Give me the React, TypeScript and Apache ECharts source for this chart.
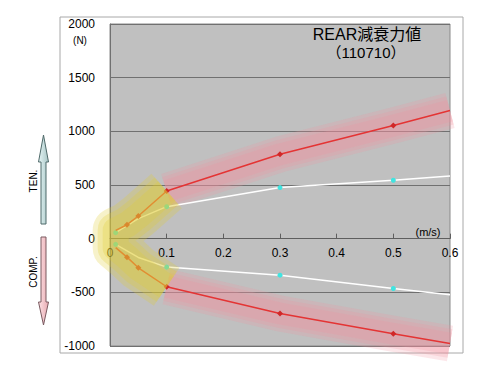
import React, { useEffect, useRef } from "react";
import * as echarts from "echarts";

// ---- data ----
const RED_X = [0.01, 0.03, 0.05, 0.1, 0.3, 0.5, 0.6];
const RED_TEN = [77, 130, 211, 444, 786, 1054, 1194];
const RED_COMP = [-84, -172, -271, -448, -697, -886, -977];
const WHITE_X = [0.01, 0.05, 0.1, 0.3, 0.5, 0.6];
const WHITE_TEN = [56, 187, 298, 476, 544, 584];
const WHITE_COMP = [-53, -175, -265, -340, -464, -523];
const RED_MARK_X = [0.03, 0.05, 0.1, 0.3, 0.5];
const CYAN_MARK_X = [0.01, 0.1, 0.3, 0.5];
const X_MIN = 0;
const X_MAX = 0.6;
const X_STEP = 0.1;
const Y_MIN = -1000;
const Y_MAX = 2000;
const Y_STEP = 500;
const TITLE = "REAR減衰力値";
const SUBTITLE = "（110710）";

const FONT = '"Liberation Sans", Arial, "Noto Sans CJK JP", sans-serif';

const GRID_LEFT = 110;
const GRID_TOP = 24;
const GRID_W = 340;
const GRID_H = 322;
const ZERO_H = (GRID_H * Y_MAX) / (Y_MAX - Y_MIN);

const pairs = (xs: number[], ys: number[]) => xs.map((x, i) => [x, ys[i]]);
const marked = (xs: number[], ys: number[], marks: number[], sym: string) =>
  xs.map((x, i) => ({ value: [x, ys[i]], symbol: marks.includes(x) ? sym : "none" }));

const yellowPath = [
  ...pairs(RED_X, RED_TEN).filter((p) => p[0] <= 0.1).reverse(),
  ...pairs(RED_X, RED_COMP).filter((p) => p[0] <= 0.1),
];
const pinkTen = pairs(RED_X, RED_TEN).filter((p) => p[0] >= 0.1);
const pinkComp = pairs(RED_X, RED_COMP).filter((p) => p[0] >= 0.1);

// soft glow = several stacked translucent strokes of decreasing width
const glow = (data: number[][], rgb: string, widths: number[], alpha: number, z: number) =>
  widths.map((w) => ({
    type: "line",
    xAxisIndex: 0,
    yAxisIndex: 0,
    data,
    symbol: "none",
    silent: true,
    z,
    lineStyle: { color: `rgba(${rgb},${alpha})`, width: w, cap: "butt", join: "round" },
  }));

const lineSeries = (data: any[], color: string, markColor: string, size: number, z: number) => ({
  type: "line",
  xAxisIndex: 0,
  yAxisIndex: 0,
  data,
  z,
  showAllSymbol: true,
  symbolSize: size,
  lineStyle: { color, width: 1.5 },
  itemStyle: { color: markColor, borderWidth: 0 },
});

const txt = (x: number, y: number, text: string, fontSize: number, extra: any = {}) => ({
  type: "text",
  x,
  y,
  z: 10,
  ...extra,
  style: {
    text,
    fontSize,
    fontFamily: FONT,
    fill: "#000",
    textAlign: "center",
    textVerticalAlign: "middle",
  },
});

const option: any = {
  animation: false,
  textStyle: { fontFamily: FONT },
  grid: [
    {
      left: GRID_LEFT,
      top: GRID_TOP,
      width: GRID_W,
      height: GRID_H,
      show: true,
      backgroundColor: "#c0c0c0",
      borderColor: "#8a8a8a",
      borderWidth: 1,
    },
    // upper half only: its bottom edge is the zero line, where the x labels sit
    { left: GRID_LEFT, top: GRID_TOP, width: GRID_W, height: ZERO_H, show: false },
  ],
  xAxis: [
    { gridIndex: 0, type: "value", min: X_MIN, max: X_MAX, interval: X_STEP, show: false },
    {
      gridIndex: 1,
      type: "value",
      min: X_MIN,
      max: X_MAX,
      interval: X_STEP,
      position: "bottom",
      axisLine: { show: true, onZero: false, lineStyle: { color: "#5e5e5e", width: 1 } },
      axisTick: { show: true, inside: true, length: 5, lineStyle: { color: "#5e5e5e" } },
      axisLabel: {
        fontSize: 12,
        margin: 8,
        color: (v: number) => (v === 0 ? "#8a7c00" : "#000"),
        formatter: (v: number) => (v === 0 ? "0" : v.toFixed(1)),
      },
      splitLine: { show: false },
    },
  ],
  yAxis: [
    {
      gridIndex: 0,
      type: "value",
      min: Y_MIN,
      max: Y_MAX,
      interval: Y_STEP,
      axisLine: { show: true, onZero: false, lineStyle: { color: "#707070" } },
      axisTick: { show: false },
      axisLabel: { fontSize: 12, color: "#000", margin: 15, formatter: (v: number) => String(v) },
      splitLine: { show: true, lineStyle: { color: "#707070", width: 1 } },
    },
    { gridIndex: 1, type: "value", min: 0, max: Y_MAX, show: false },
  ],
  graphic: [
    {
      type: "rect",
      shape: { x: 60, y: 17, width: 403, height: 336 },
      style: { fill: "none", stroke: "#a8a8a8", lineWidth: 1 },
      z: -10,
    },
    txt(367, 34, TITLE, 16),
    txt(366, 52, SUBTITLE, 15),
    txt(80, 40, "(N)", 10),
    txt(428, 232, "(m/s)", 11),
    {
      type: "polygon",
      shape: {
        points: [
          [43.5, 135], [48.5, 162], [46, 162], [46, 224], [41, 224], [41, 162], [38.5, 162],
        ],
      },
      style: {
        fill: new echarts.graphic.LinearGradient(0, 0, 1, 0, [
          { offset: 0, color: "#e6f6f6" },
          { offset: 1, color: "#a9c6c6" },
        ]),
        stroke: "#4f6a6a",
        lineWidth: 1,
      },
    },
    {
      type: "polygon",
      shape: {
        points: [
          [41, 237], [46, 237], [46, 302], [48.5, 302], [43.5, 325], [38.5, 302], [41, 302],
        ],
      },
      style: {
        fill: new echarts.graphic.LinearGradient(0, 0, 1, 0, [
          { offset: 0, color: "#fde2e5" },
          { offset: 1, color: "#e8aab2" },
        ]),
        stroke: "#7a5a60",
        lineWidth: 1,
      },
    },
    txt(33, 181, "TEN.", 10, { rotation: Math.PI / 2 }),
    txt(33, 272, "COMP.", 10, { rotation: Math.PI / 2 }),
  ],
  series: [
    ...glow(pinkTen, "240,145,160", [36, 29, 22], 0.22, 1),
    ...glow(pinkComp, "240,145,160", [36, 29, 22], 0.22, 1),
    lineSeries(marked(WHITE_X, WHITE_TEN, CYAN_MARK_X, "circle"), "#ffffff", "#40e4e0", 5, 2),
    lineSeries(marked(WHITE_X, WHITE_COMP, CYAN_MARK_X, "circle"), "#ffffff", "#40e4e0", 5, 2),
    lineSeries(marked(RED_X, RED_TEN, RED_MARK_X, "diamond"), "#e43434", "#d02828", 6, 3),
    lineSeries(marked(RED_X, RED_COMP, RED_MARK_X, "diamond"), "#e43434", "#d02828", 6, 3),
    ...glow(yellowPath, "226,204,50", [46, 36, 26], 0.26, 4),
  ],
};

export default function App() {
  const ref = useRef<HTMLDivElement>(null);
  useEffect(() => {
    const chart = echarts.init(ref.current!, null, { renderer: "svg" });
    chart.setOption(option);
    return () => chart.dispose();
  }, []);
  return (
    <div
      ref={ref}
      style={{ position: "fixed", left: 0, top: 0, width: 500, height: 375, background: "#fff" }}
    />
  );
}
